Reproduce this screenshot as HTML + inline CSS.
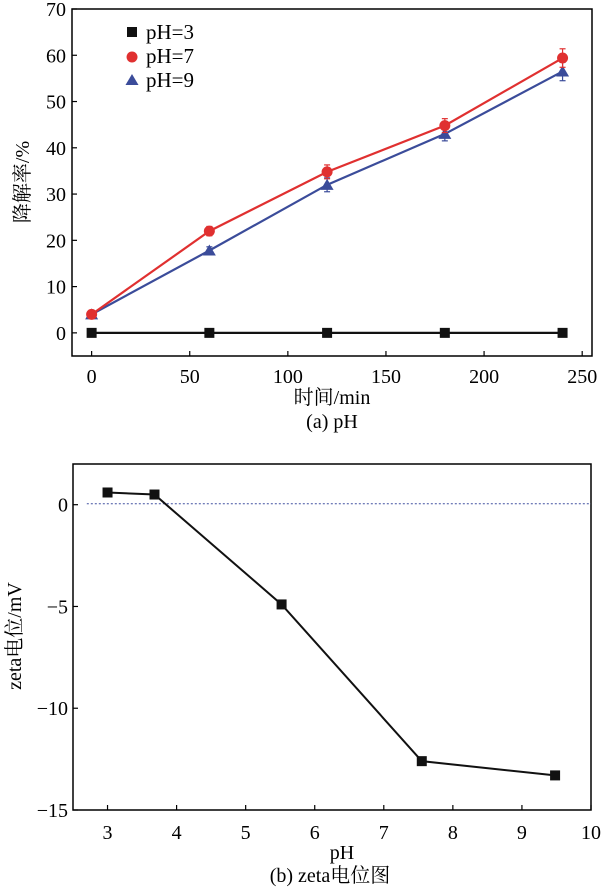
<!DOCTYPE html>
<html><head><meta charset="utf-8"><style>
body{margin:0;background:#fff}
svg{display:block}
svg text{font-family:"Liberation Serif","Noto Serif CJK SC",serif}
</style></head><body>
<svg id="chart" width="602" height="888" font-family="'Liberation Serif','Noto Serif CJK SC',serif"></svg>
<script>
const timeCats=[0,60,120,180,240];
const ph3=[0,0,0,0,0];
const ph7=[4,22,34.8,44.8,59.4];
const ph7err=[0.5,1,1.5,1.5,2];
const ph9=[4,17.8,32,43,56.5];
const ph9err=[0.5,0.8,1.5,1.5,2];
const topXTicks=[0,50,100,150,200,250];
const topYTicks=[0,10,20,30,40,50,60,70];
const zetaPH=[3,3.68,5.52,7.55,9.48];
const zetaVal=[0.6,0.5,-4.9,-12.6,-13.3];
const botXTicks=[3,4,5,6,7,8,9,10];
const botYTicks=[0,-5,-10,-15];

const svg=document.getElementById('chart');
const NS='http://www.w3.org/2000/svg';
function mk(t,a,parent){const e=document.createElementNS(NS,t);for(const k in a)e.setAttribute(k,a[k]);(parent||svg).appendChild(e);return e;}
function txt(s,a){a['font-family']="Liberation Serif, Noto Serif CJK SC, serif";const e=mk('text',a);e.textContent=s;return e;}

// Top chart
const tx=v=>72+(v+10)*(592-72)/265;
const ty=v=>356-(v+5)*(356-9)/75;
const g1=mk('g',{});


const f1=mk('rect',{x:72,y:9,width:520,height:347,fill:'none',stroke:'#000','stroke-width':1.5},g1);


topXTicks.forEach(v=>{const x=tx(v);mk('line',{x1:x,x2:x,y1:356,y2:351,stroke:'#000','stroke-width':1.2},g1);
 const t=txt(v,{x:x,y:383,'text-anchor':'middle','font-size':20});
 
 });
topYTicks.forEach(v=>{const y=ty(v);mk('line',{x1:72,x2:77,y1:y,y2:y,stroke:'#000','stroke-width':1.2},g1);
 const t=txt(v,{x:66,y:y+7,'text-anchor':'end','font-size':20});
 
 });
function series(vals,err,color,marker,name){
 const pts=vals.map((v,i)=>tx(timeCats[i])+','+ty(v)).join(' ');
 const l=mk('polyline',{points:pts,fill:'none',stroke:color,'stroke-width':2.2},g1);
 
 
 vals.forEach((v,i)=>{const x=tx(timeCats[i]),y=ty(v);
  if(err){const e=err[i];mk('line',{x1:x,x2:x,y1:ty(v+e),y2:ty(v-e),stroke:color,'stroke-width':1.2},g1);
   mk('line',{x1:x-3,x2:x+3,y1:ty(v+e),y2:ty(v+e),stroke:color,'stroke-width':1.2},g1);
   mk('line',{x1:x-3,x2:x+3,y1:ty(v-e),y2:ty(v-e),stroke:color,'stroke-width':1.2},g1);}
  let m;
  if(marker==='sq')m=mk('rect',{x:x-5,y:y-5,width:10,height:10,fill:color},g1);
  else if(marker==='c')m=mk('circle',{cx:x,cy:y,r:5.5,fill:color},g1);
  else m=mk('polygon',{points:`${x},${y-6} ${x-6.5},${y+5} ${x+6.5},${y+5}`,fill:color},g1);
  
  });
}
series(ph3,null,'#111','sq','ph3');
series(ph9,ph9err,'#3b4c9a','t','ph9');
series(ph7,ph7err,'#e03030','c','ph7');
// legend
const lg=mk('g',{},g1);


mk('rect',{x:127,y:27,width:10,height:10,fill:'#111'},lg);
mk('circle',{cx:132,cy:57,r:5.5,fill:'#e03030'},lg);
mk('polygon',{points:'132,74 125.5,85 138.5,85',fill:'#3b4c9a'},lg);
[['pH=3',39],['pH=7',63],['pH=9',87]].forEach(([s,y])=>{const t=txt(s,{x:146,y:y,'font-size':21});lg.appendChild(t);});
let t=txt('时间/min',{x:332,y:404,'text-anchor':'middle','font-size':20});

t=txt('(a) pH',{x:332,y:428,'text-anchor':'middle','font-size':20});

t=txt('降解率/%',{x:0,y:0,'text-anchor':'middle','font-size':20,transform:'translate(29,182) rotate(-90)'});


// Bottom chart
const bx=v=>73+(v-2.5)*(591-73)/7.5;
const by=v=>810-(v+15)*(810-464)/17;
const g2=mk('g',{});


const f2=mk('rect',{x:73,y:464,width:518,height:346,fill:'none',stroke:'#000','stroke-width':1.5},g2);


const zl=mk('line',{x1:bx(2.7),x2:bx(10),y1:by(0)-1,y2:by(0)-1,stroke:'#4050a0','stroke-width':1,'stroke-dasharray':'2,2'},g2);


botXTicks.forEach(v=>{const x=bx(v);mk('line',{x1:x,x2:x,y1:810,y2:805,stroke:'#000','stroke-width':1.2},g2);
 const t=txt(v,{x:x,y:839,'text-anchor':'middle','font-size':20});
 });
botYTicks.forEach(v=>{const y=by(v);mk('line',{x1:73,x2:78,y1:y,y2:y,stroke:'#000','stroke-width':1.2},g2);
 const t=txt(v<0?'−'+(-v):v,{x:68,y:y+7,'text-anchor':'end','font-size':20});
 });
const zp=mk('polyline',{points:zetaVal.map((v,i)=>bx(zetaPH[i])+','+by(v)).join(' '),fill:'none',stroke:'#111','stroke-width':2},g2);

zetaVal.forEach((v,i)=>{const m=mk('rect',{x:bx(zetaPH[i])-5,y:by(v)-5,width:10,height:10,fill:'#111'},g2);
 });
t=txt('pH',{x:342,y:859,'text-anchor':'middle','font-size':20});

t=txt('(b) zeta电位图',{x:330,y:882,'text-anchor':'middle','font-size':20});

t=txt('zeta电位/mV',{x:0,y:0,'text-anchor':'middle','font-size':20,transform:'translate(21,636) rotate(-90)'});

</script>
</body></html>
